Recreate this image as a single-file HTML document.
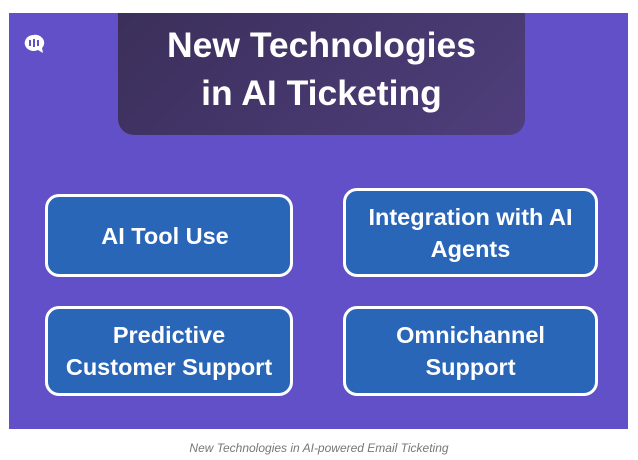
<!DOCTYPE html>
<html><head><style>
body{margin:0;width:638px;height:460px;background:#fff;position:relative;overflow:hidden;font-family:"Liberation Sans",sans-serif}
.bg{position:absolute;left:9px;top:13px;width:619px;height:416px;background:#6150c8}
.title{position:absolute;left:118px;top:13px;width:407px;height:122px;box-sizing:border-box;padding-bottom:10px;border-radius:0 0 16px 16px;background:linear-gradient(135deg,#3b2f5a,#4f3e7c);color:#fff;font-weight:bold;font-size:35.5px;line-height:48px;text-align:center;display:flex;align-items:center;justify-content:center}
.box{position:absolute;box-sizing:border-box;border:3px solid #fff;border-radius:14px;background:#2a66b8;color:#fff;font-weight:bold;font-size:23.5px;line-height:32px;text-align:center;display:flex;align-items:center;justify-content:center}
.cap{position:absolute;top:441px;width:638px;text-align:center;font-style:italic;font-size:12px;color:#777}
</style></head><body>
<div class="bg"></div>
<svg style="position:absolute;left:22px;top:34px" width="24" height="20" viewBox="0 0 24 20"><path d="M11 1a9 8 0 1 0 5 15l5 3-1-5A9 8 0 0 0 11 1z" fill="#fff"/><rect x="7" y="6" width="2" height="6" fill="#6150c8"/><rect x="11" y="5" width="2" height="8" fill="#6150c8"/><rect x="15" y="6" width="2" height="6" fill="#6150c8"/></svg>
<div class="title">New Technologies<br>in AI Ticketing</div>
<div class="box" style="left:45px;top:194px;width:248px;height:83px;padding-right:8px">AI Tool Use</div>
<div class="box" style="left:343px;top:188px;width:255px;height:89px">Integration with AI<br>Agents</div>
<div class="box" style="left:45px;top:306px;width:248px;height:90px">Predictive<br>Customer Support</div>
<div class="box" style="left:343px;top:306px;width:255px;height:90px">Omnichannel<br>Support</div>
<div class="cap">New Technologies in AI-powered Email Ticketing</div>
</body></html>
